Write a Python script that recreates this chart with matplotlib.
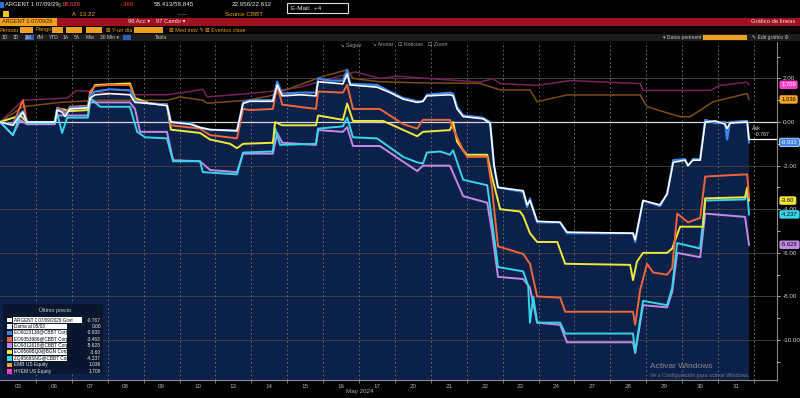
import matplotlib
matplotlib.use("Agg")
import matplotlib.pyplot as plt
from matplotlib.patches import Rectangle

plt.rcParams['font.family'] = ['Liberation Sans', 'DejaVu Sans']

W, H = 800, 398

# trading days of May 2024 (x unit = one trading day, 0 = open of May 3)
dias = ['03', '06', '07', '08', '09', '10', '13', '14', '15', '16', '17',
        '20', '21', '22', '23', '24', '27', '28', '29', '30', '31']

# ARGENT 1 07/09/29 (white, area)
argent_t = [0, 0.36, 0.56, 0.64, 0.75, 1.53, 1.59, 1.73, 1.81, 1.95, 2.45, 2.51, 2.65, 3.06, 3.62,
            3.76, 4.18, 4.65, 4.76, 5.29, 5.57, 5.85, 6.60, 6.77, 6.96, 7.60, 7.72, 7.86, 8.36,
            8.80, 8.86, 9.19, 9.55, 9.67, 9.75, 10.50, 10.86, 11.23, 11.62, 11.78, 11.89, 12.53,
            12.62, 12.73, 12.90, 13.45, 13.65, 13.76, 13.87, 14.57, 14.68, 14.76, 14.96, 15.60,
            15.79, 17.63, 17.69, 17.91, 18.38, 18.58, 18.75, 19.08, 19.16, 19.30, 19.50, 19.64,
            19.92, 20.19, 20.25, 20.33, 20.81, 20.86]
argent_v = [0, -0.15, 0.3, 0.45, 0.0, 0.0, 0.55, 0.45, 0.25, 0.6, 0.65, 1.1, 1.25, 1.3, 1.25,
            0.9, 0.85, 0.75, 0.0, -0.1, -0.25, -0.35, -0.4, 0.85, 0.95, 0.95, 1.7, 1.2, 1.25,
            1.2, 1.85, 1.8, 1.75, 2.2, 1.7, 1.6, 1.35, 1.05, 0.9, 0.95, 1.2, 1.25,
            1.2, 0.6, 0.25, 0.15, -0.05, -2.0, -3.0, -3.15, -3.8, -3.6, -4.55, -4.6,
            -5.05, -5.1, -5.4, -3.6, -3.8, -3.3, -1.85, -1.75, -2.0, -1.75, -1.75, 0.0,
            0.05, -0.1, -0.3, -0.05, 0.0, -0.767]

# bono azul
azul_t = [0, 0.36, 0.56, 0.64, 0.75, 1.53, 1.59, 1.73, 1.81, 1.95, 2.45, 2.51, 2.65, 3.06, 3.62,
          3.76, 4.18, 4.65, 4.76, 5.29, 5.57, 5.85, 6.60, 6.77, 6.96, 7.60, 7.72, 7.86, 8.36,
          8.80, 8.86, 9.19, 9.55, 9.67, 9.75, 10.50, 10.86, 11.23, 11.62, 11.78, 11.89, 12.53,
          12.62, 12.73, 12.90, 13.45, 13.65, 13.76, 13.87, 14.57, 14.68, 14.76, 14.96, 15.60,
          15.79, 17.63, 17.69, 17.91, 18.38, 18.58, 18.75, 19.08, 19.16, 19.30, 19.50, 19.64,
          19.92, 20.19, 20.25, 20.33, 20.81, 20.86]
azul_v = [0, -0.1, 0.4, 0.5, 0.0, 0.0, 0.6, 0.5, 0.3, 0.65, 0.7, 1.2, 1.4, 1.5, 1.45,
          0.95, 0.85, 0.8, 0.0, -0.05, -0.25, -0.35, -0.4, 0.9, 1.0, 1.0, 1.85, 1.3, 1.35,
          1.35, 2.0, 1.9, 1.9, 2.4, 1.75, 1.7, 1.4, 1.1, 0.95, 0.95, 1.25, 1.35,
          1.3, 0.7, 0.3, 0.2, 0.0, -2.0, -3.0, -3.2, -3.9, -3.5, -4.6, -4.6,
          -5.1, -5.1, -5.5, -3.6, -3.85, -3.3, -1.75, -1.7, -2.0, -1.7, -1.7, 0.1,
          -0.05, 0.0, -0.8, 0.0, 0.05, -0.933]

# bono naranja
naranja_t = [0, 0.36, 0.56, 0.64, 0.75, 1.53, 1.59, 1.73, 1.81, 1.95, 2.45, 2.51, 2.65, 3.06, 3.62,
             3.76, 4.18, 4.65, 4.76, 5.57, 5.85, 6.60, 6.77, 6.96, 7.60, 7.72, 7.86, 8.80, 8.86,
             9.55, 9.67, 9.83, 10.58, 11.23, 11.62, 11.78, 12.53, 12.62, 12.90, 13.01, 13.57,
             13.70, 13.87, 14.57, 14.76, 14.96, 15.60, 15.74, 17.63, 17.69, 17.83, 18.02, 18.19,
             18.58, 18.72, 18.86, 19.16, 19.50, 19.64, 20.19, 20.81, 20.86]
naranja_v = [0, -0.1, 0.7, 1.0, 0.0, 0.0, 0.65, 0.6, 0.4, 0.7, 0.75, 1.4, 1.65, 1.7, 1.7,
             1.0, 0.85, 0.8, -0.15, -0.3, -0.6, -0.75, 0.6, 0.55, 0.6, 1.7, 0.8, 0.6, 1.4,
             1.35, 1.7, 0.6, 0.6, -0.1, -0.3, 0.1, 0.1, -0.3, -1.3, -1.6, -1.6,
             -3.0, -5.7, -6.05, -6.5, -8.0, -8.05, -8.7, -8.7, -9.3, -7.7, -6.5, -6.9,
             -7.0, -6.7, -4.2, -4.6, -4.4, -2.5, -2.45, -2.4, -3.463]

# bono amarillo
amarillo_t = [0, 0.56, 0.75, 1.53, 1.59, 1.73, 1.95, 2.45, 2.51, 2.65, 3.62, 3.76, 4.18, 4.65,
              4.76, 5.57, 5.85, 6.41, 6.60, 6.77, 7.60, 7.66, 7.86, 8.80, 8.86, 9.55, 9.67, 9.83,
              10.67, 11.62, 11.78, 12.53, 12.62, 12.73, 12.90, 13.01, 13.57, 13.70, 13.93, 14.48,
              14.57, 14.76, 14.96, 15.52, 15.74, 17.55, 17.63, 17.74, 17.91, 18.58, 18.72, 18.94,
              19.58, 19.64, 20.75, 20.81, 20.86]
amarillo_v = [0, 0.3, 0.0, 0.0, 0.55, 0.6, 0.5, 0.55, 1.3, 1.7, 1.77, 1.1, 0.85, 0.8,
              -0.35, -0.5, -0.8, -1.0, -1.2, -1.0, -0.95, 0.0, -0.15, -0.15, 0.3, 0.1, 0.85, 0.05,
              0.05, -0.65, -0.45, -0.37, 0.0, -0.9, -1.3, -1.5, -1.5, -2.5, -4.0, -4.1,
              -4.3, -5.1, -5.5, -5.5, -6.5, -6.55, -7.25, -6.4, -6.0, -6.0, -5.8, -4.8,
              -4.8, -3.5, -3.45, -3.0, -3.60]

# bono celeste
celeste_t = [0, 0.36, 0.56, 0.64, 0.75, 1.53, 1.59, 1.73, 1.87, 2.45, 2.51, 2.79, 3.62, 3.82,
             4.04, 4.65, 4.82, 5.57, 5.65, 6.60, 6.77, 7.60, 7.66, 7.80, 8.80, 8.86, 9.55, 9.67,
             9.83, 10.50, 11.23, 11.62, 11.78, 11.89, 12.26, 12.53, 12.62, 12.90, 13.57, 13.70,
             13.87, 14.57, 14.71, 14.76, 14.85, 14.96, 15.60, 15.74, 17.63, 17.69, 17.91, 18.58,
             18.72, 18.86, 19.50, 19.64, 20.75, 20.81, 20.86]
celeste_v = [0, -0.6, 0.3, 0.45, -0.05, -0.05, 0.4, -0.5, 0.2, 0.2, 1.1, 0.7, 0.7, -0.45,
             -0.7, -0.75, -1.8, -1.8, -2.3, -2.4, -1.4, -1.35, -0.28, -1.05, -1.0, -0.3, -0.2, 0.2,
             -0.7, -0.75, -1.6, -1.85, -1.9, -1.4, -1.35, -1.5, -1.3, -2.65, -2.9, -4.5,
             -6.65, -6.85, -7.5, -9.2, -8.0, -9.2, -9.2, -9.7, -9.7, -10.55, -8.2, -8.4,
             -7.6, -5.55, -5.8, -3.6, -3.55, -3.1, -4.237]

# bono violeta
violeta_t = [0, 0.36, 0.56, 0.75, 1.53, 1.59, 1.87, 2.45, 2.51, 3.62, 3.76, 3.90, 4.65, 4.82,
             5.57, 5.85, 6.60, 6.77, 7.60, 7.72, 7.86, 8.80, 8.86, 9.55, 9.67, 9.83, 10.58, 11.62,
             11.78, 12.53, 12.90, 13.57, 13.70, 13.87, 14.57, 14.76, 14.96, 15.60, 15.79, 17.63,
             17.69, 17.91, 18.58, 18.72, 18.86, 19.50, 19.64, 20.75, 20.86]
violeta_v = [0, -0.6, 0.1, -0.1, -0.1, 0.3, 0.3, 0.3, 0.9, 0.9, 0.6, -0.45, -0.45, -1.75,
             -1.8, -2.2, -2.3, -1.45, -1.45, -0.5, -0.95, -1.05, -0.37, -0.45, -0.23, -1.1, -1.1, -2.25,
             -2.0, -2.0, -3.4, -3.7, -5.0, -7.1, -7.2, -7.6, -9.2, -9.3, -10.1, -10.1,
             -10.6, -8.4, -8.5, -7.8, -6.0, -6.2, -4.2, -4.35, -5.628]

# EMB US Equity
emb_t = [0, 0.64, 1.67, 2.79, 4.65, 5.01, 5.65, 5.77, 6.88, 7.52, 8.91, 9.67, 9.83, 10.58,
         11.62, 13.37, 13.93, 14.76, 14.96, 15.79, 17.83, 18.02, 18.94, 19.22, 19.86, 20.81, 20.86]
emb_v = [0, 0.7, 0.9, 1.0, 1.0, 1.15, 1.0, 0.86, 1.0, 1.2, 2.05, 2.4, 2.0, 1.85,
         1.8, 1.77, 1.47, 1.47, 0.93, 1.24, 1.24, 0.7, 0.24, 0.24, 0.93, 1.31, 1.036]

# HYEM US Equity
hyem_t = [0, 0.64, 1.87, 2.14, 3.70, 4.65, 5.01, 5.65, 5.77, 6.88, 7.52, 8.36, 9.89, 10.58,
          11.06, 13.37, 13.73, 13.93, 14.96, 15.88, 17.83, 17.91, 19.78, 20.06, 20.81, 20.86]
hyem_v = [0, 1.0, 1.1, 1.45, 1.25, 1.25, 1.33, 1.5, 1.15, 1.3, 1.4, 1.6, 2.3, 2.0,
          2.1, 1.83, 1.99, 1.76, 1.68, 1.9, 1.76, 1.45, 1.45, 1.68, 1.83, 1.709]

leyenda_nombres = ['ARGENT 1 07/09/2029 Govt', 'Dama al 05/03', 'EO9023130@CBBT Corp',
                   'EO9353986@CBBT Corp', 'EO9312618@CBBT Corp', 'EO9569BQ0@BGN Corp',
                   'ZQ9569SNG@CBBT Corp', 'EMB US Equity', 'HYEM US Equity']
leyenda_valores = ['-0.767', '0.00', '-0.933', '-3.463', '-5.628', '-3.60', '-4.237', '1.036', '1.709']
leyenda_colores = ['#ffffff', '#ffffff', '#3a86f0', '#f0663a', '#c58ae8', '#f2e83a', '#34d6ea',
                   '#f5a623', '#ff3fc8']

NAVY = '#0b2149'
YMIN, YMAX = -11.83, 3.67
XMAX = 21.64

fig = plt.figure(figsize=(W / 100, H / 100), dpi=100, facecolor='black')


def px(x):
    return x / W


def py(y):
    return 1 - y / H


def txt(x, y, s, color='#e8e8e8', size=4.5, **kw):
    fig.text(px(x), py(y), s, color=color, fontsize=size, va='center', **kw)


def caja(x0, y0, x1, y1, color, ec='none', lw=0.6, z=1):
    fig.add_artist(Rectangle((px(x0), py(y1)), px(x1) - px(x0), py(y0) - py(y1),
                             transform=fig.transFigure, facecolor=color, edgecolor=ec,
                             lw=lw, zorder=z))


ax = fig.add_axes([0, 1 - 380 / H, 777 / W, (380 - 42) / H])
ax.set_facecolor('black')
ax.set_xlim(0, XMAX)
ax.set_ylim(YMIN, YMAX)

ax.fill_between(argent_t, argent_v, YMIN - 5, color=NAVY, lw=0, zorder=1)

for v in range(-10, 4, 2):
    ax.axhline(v, color='#3e3e3e', lw=0.7, zorder=2)
for d in range(1, len(dias) + 1):
    ax.axvline(d, color='#7a7a7a', lw=0.6, ls=(0, (2, 3)), zorder=2)

ax.plot(hyem_t, hyem_v, color='#7a2058', lw=1.1, zorder=3)
ax.plot(emb_t, emb_v, color='#7d4c12', lw=1.1, zorder=3)
ax.axhline(0, color='#d8d8d8', lw=0.9, zorder=3)
ax.plot(violeta_t, violeta_v, color=leyenda_colores[4], lw=1.4, zorder=4)
ax.plot(celeste_t, celeste_v, color=leyenda_colores[6], lw=1.4, zorder=4)
ax.plot(amarillo_t, amarillo_v, color=leyenda_colores[5], lw=1.4, zorder=4)
ax.plot(naranja_t, naranja_v, color=leyenda_colores[3], lw=1.4, zorder=4)
ax.plot(azul_t, azul_v, color=leyenda_colores[2], lw=1.6, zorder=5)
ax.plot(argent_t, argent_v, color='white', lw=1.2, zorder=6)
ax.plot([argent_t[-1], XMAX], [argent_v[-1], argent_v[-1]], color='white', lw=0.9, zorder=6)

# ejes
for s in ['top', 'left']:
    ax.spines[s].set_visible(False)
ax.spines['right'].set_color('#8a8a8a')
ax.spines['bottom'].set_color('#8a8a8a')
ax.yaxis.tick_right()
ax.set_yticks(range(-10, 4, 2))
ax.set_yticklabels([f'{v:.2f}' for v in range(-10, 4, 2)])
ax.set_yticks(range(-11, 4, 2), minor=True)
ax.tick_params(axis='y', which='both', colors='#d0d0d0', labelsize=4.5, length=2, width=0.6, pad=2)
ax.set_xticks([i + 0.5 for i in range(len(dias))])
ax.set_xticklabels(dias)
ax.set_xticks(range(1, len(dias) + 1), minor=True)
ax.tick_params(axis='x', which='major', length=0, colors='#b0b0b0', labelsize=4.5, pad=3)
ax.tick_params(axis='x', which='minor', length=2, color='#8a8a8a')
txt(360, 392, 'May 2024', color='#b0b0b0', size=4.5, ha='center')

# etiquetas de último valor a la derecha
ultimos = [(hyem_v[-1], '1.709', '#ff3fc8', 'white'), (emb_v[-1], '1.036', '#f5a623', 'black'),
           (azul_v[-1], '-0.933', '#3a86f0', 'white'), (amarillo_v[-1], '-3.60', '#f2e83a', 'black'),
           (celeste_v[-1], '-4.237', '#34d6ea', 'black'), (violeta_v[-1], '-5.628', '#c58ae8', 'black')]
for val, s, fc, tc in ultimos:
    ax.annotate(s, xy=(1, val), xycoords=('axes fraction', 'data'), xytext=(3, 0),
                textcoords='offset points', color=tc, fontsize=4.2, va='center', ha='left',
                bbox=dict(boxstyle='round,pad=0.3', fc=fc, ec='white' if fc == '#3a86f0' else 'none', lw=0.5),
                annotation_clip=False, zorder=10)
txt(752, 128, 'Ask', size=3.8)
txt(755, 134, '-0.767', size=3.8)

# leyenda
caja(3, 304, 103, 374, '#08162e', z=2)
txt(55, 310, 'Último precio', color='#cfcfcf', size=4.0, ha='center')
for i, (n, v, c) in enumerate(zip(leyenda_nombres, leyenda_valores, leyenda_colores)):
    y = 320 + 6.4 * i
    caja(7, y - 2.3, 11.5, y + 2.3, c, z=3)
    if i < 7:
        caja(13, y - 2.8, 82 if i == 0 else 67, y + 2.8, 'white', z=3)
        txt(14, y, n, color='black', size=3.3 if i == 0 else 3.4)
    else:
        txt(14, y, n, color='#e8e8e8', size=3.5)
    txt(101, y, v, color='#e8e8e8', size=3.5, ha='right')

# marca de agua
txt(650, 366, 'Activar Windows', color='#8a8a8a', size=6)
txt(650, 375, 'Ve a Configuración para activar Windows.', color='#7a7a7a', size=3.8)

# cabecera tipo terminal
caja(0, 2, 4, 8, '#2f6fd6')
txt(5, 5, 'ARGENT 1 07/09/29', size=4.2)
txt(58, 5, '$', color='#39c24a', size=4.2)
txt(63, 5, '58.629', color='#ff4a5a', size=4.2)
txt(120, 5, '-.366', color='#ff3a3a', size=4.5)
txt(154, 5, '58.413/58.845', size=4.5)
txt(232, 5, '22.956/22.612', size=4.5)
caja(287, 3, 348, 13, 'black', ec='#e0e0e0', lw=0.8)
txt(291, 8, 'E-Mail:  +4', size=4.5)
caja(3, 11, 9, 17, '#e8c800')
txt(72, 14, 'A  13:22', color='#e8a000', size=4.5)
txt(178, 14, '--:--', color='#bbbbbb', size=4.5)
txt(225, 14, 'Source CBBT', color='#e8a000', size=4.5)

caja(57, 18, 800, 25.5, '#a0101e')
caja(0, 18, 57, 25.5, '#f0a020')
txt(2, 21.7, 'ARGENT 1 07/09/29', color='#3a1a00', size=4.0)
txt(128, 21.7, '96 Acc ▾', size=4.2)
txt(156, 21.7, '97 Cambi ▾', size=4.2)
txt(795, 21.7, 'Gráfico de líneas', size=4.2, ha='right')

txt(0, 30, 'Periodo', color='#e8a000', size=4.0)
caja(20, 27, 33, 33, '#f0a020')
txt(36, 30, 'Rango', color='#e8a000', size=4.0)
for x0, x1 in [(52, 63), (66, 82), (86, 102)]:
    caja(x0, 27, x1, 33, '#f0a020')
txt(106, 30, '⊠ Y-un dia', color='#e8a000', size=4.0)
caja(134, 27, 163, 33, '#f0a020')
txt(169, 30, '⊠ Med móv ✎', color='#e8a000', size=4.0)
txt(205, 30, '⊠ Eventos clave', color='#e8a000', size=4.0)

caja(0, 34, 800, 41, '#1c1c1c')
for x, s in zip([2, 13, 25, 37, 49, 63, 74, 86, 100], ['1D', '3D', '1M', '6M', 'YTD', '1A', '5A', 'Máx', '30 Min ▾']):
    txt(x, 37.5, s, color='#c8c8c8', size=3.6)
caja(25, 35, 34, 40, '#2b5fb8')
caja(123, 35, 131, 40, '#2b5fb8')
txt(155, 37.5, 'Tabla', color='#c8c8c8', size=3.6)
txt(663, 37.5, '▾ Datos pertinent', color='#c8c8c8', size=3.6)
caja(703, 35, 747, 40, '#f0a020')
txt(752, 37.5, '✎ Edit gráfico ⚙', color='#c8c8c8', size=3.6)
for x, s in zip([340, 372, 398, 428], ['↘ Seguir', '↘ Anotar', '⊡ Noticias', '⊡ Zoom']):
    txt(x, 45, s, color='#a0a0a0', size=3.8)

fig.savefig('out.png', dpi=100, facecolor='black')
